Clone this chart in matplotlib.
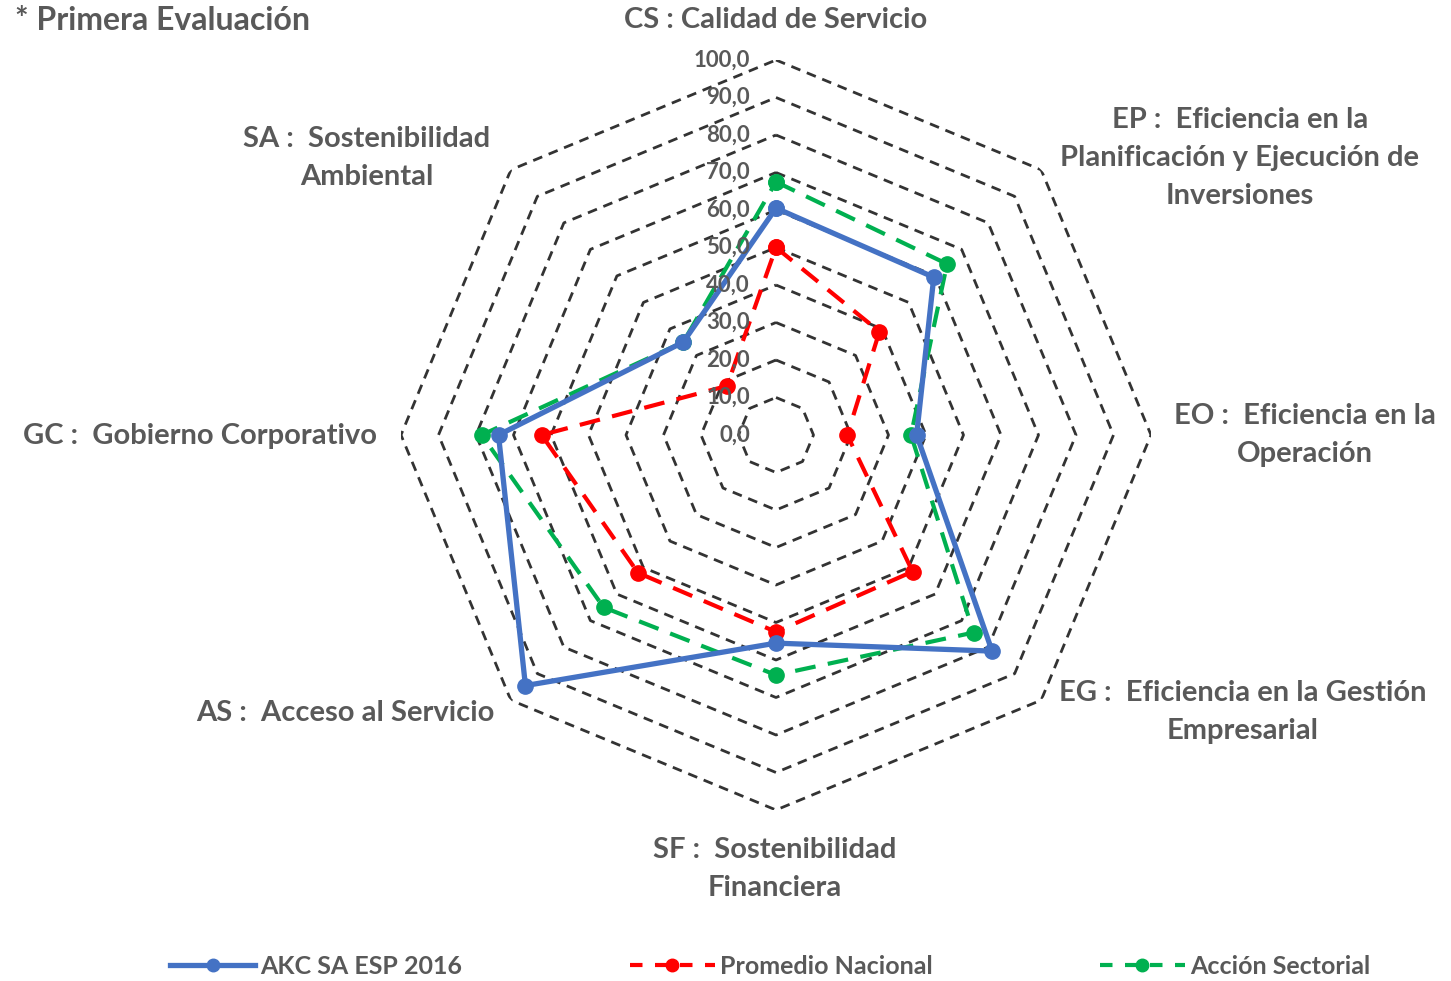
import numpy as np
import matplotlib
matplotlib.use('Agg')
import matplotlib.pyplot as plt
from matplotlib.lines import Line2D

plt.rcParams['font.family'] = ['Lato', 'DejaVu Sans']

## data
categories = ['CS', 'EP', 'EO', 'EG', 'SF', 'AS', 'GC', 'SA']
akc = [60.5, 59.5, 37.5, 81.5, 55.5, 94.5, 74.0, 35.0]
promedio = [50.0, 39.0, 19.0, 51.5, 52.5, 52.0, 62.5, 18.5]
accion = [67.5, 64.5, 36.0, 74.5, 64.0, 65.0, 78.5, 35.0]
levels = [0, 10, 20, 30, 40, 50, 60, 70, 80, 90, 100]
level_labels = ['0,0', '10,0', '20,0', '30,0', '40,0', '50,0', '60,0', '70,0', '80,0', '90,0', '100,0']

cat_labels = [
    'CS : Calidad de Servicio',
    'EP :  Eficiencia en la\nPlanificación y Ejecución de\nInversiones',
    'EO :  Eficiencia en la\nOperación',
    'EG :  Eficiencia en la Gestión\nEmpresarial',
    'SF :  Sostenibilidad\nFinanciera',
    'AS :  Acceso al Servicio',
    'GC :  Gobierno Corporativo',
    'SA :  Sostenibilidad\nAmbiental',
]
# label centres in pixels (x, y from top)
label_pos = [(776, 20), (1240, 158), (1305, 435), (1243, 712),
             (775, 869), (345, 713), (200, 436), (367, 158)]

W, H = 1451, 981
fig = plt.figure(figsize=(W / 100, H / 100), dpi=100)

# polar axes centred at (776, 435) px, radius 375 px
cx, cy, R = 776, 435, 375
ax = fig.add_axes([(cx - R) / W, (H - cy - R) / H, 2 * R / W, 2 * R / H], projection='polar')
ax.set_theta_zero_location('N')
ax.set_theta_direction(-1)
ax.set_ylim(0, 100)
ax.grid(False)
ax.spines['polar'].set_visible(False)
ax.set_xticks([])
ax.set_yticks([])
ax.patch.set_alpha(0)

n = len(categories)
angles = np.linspace(0, 2 * np.pi, n, endpoint=False)
closed = np.concatenate([angles, angles[:1]])

# octagon grid
for lv in levels[1:]:
    ax.plot(closed, [lv] * (n + 1), color='#333333', lw=2, ls=(0, (3.5, 2.5)), zorder=1)

def close(v):
    return list(v) + [v[0]]

ax.plot(closed, close(accion), color='#00B050', lw=3, ls=(0, (5, 3)),
        marker='o', ms=11, zorder=3)
ax.plot(closed, close(promedio), color='#FF0000', lw=3, ls=(0, (5, 3)),
        marker='o', ms=11, zorder=3)
ax.plot(closed, close(akc), color='#4472C4', lw=3.8, ls='-',
        marker='o', ms=11, zorder=4)

# radial value labels along the top axis
for lv, lab in zip(levels, level_labels):
    ypx = cy - R * lv / 100
    fig.text(750 / W, 1 - ypx / H, lab, ha='right', va='center', fontsize=16,
             color='#595959', fontweight='bold')

for lab, (x, y) in zip(cat_labels, label_pos):
    fig.text(x / W, 1 - y / H, lab, ha='center', va='center', fontsize=21,
             color='#595959', fontweight='bold', linespacing=1.55)

fig.text(15 / W, 1 - 20 / H, '* Primera Evaluación', ha='left', va='center',
         fontsize=23, color='#595959', fontweight='bold')

handles = [
    Line2D([], [], color='#4472C4', lw=3.8, marker='o', ms=9),
    Line2D([], [], color='#FF0000', lw=3, ls=(0, (3, 3)), marker='o', ms=9),
    Line2D([], [], color='#00B050', lw=3, ls=(0, (3, 3)), marker='o', ms=9),
]
leg = fig.legend(handles, ['AKC SA ESP 2016', 'Promedio Nacional', 'Acción Sectorial'],
                 loc='center', bbox_to_anchor=(770 / W, 1 - 966 / H), ncol=3,
                 frameon=False, handlelength=3.4, columnspacing=6.7, handletextpad=0.2,
                 prop={'size': 18, 'weight': 'bold'})
for t in leg.get_texts():
    t.set_color('#595959')

fig.savefig('out.png', dpi=100)
